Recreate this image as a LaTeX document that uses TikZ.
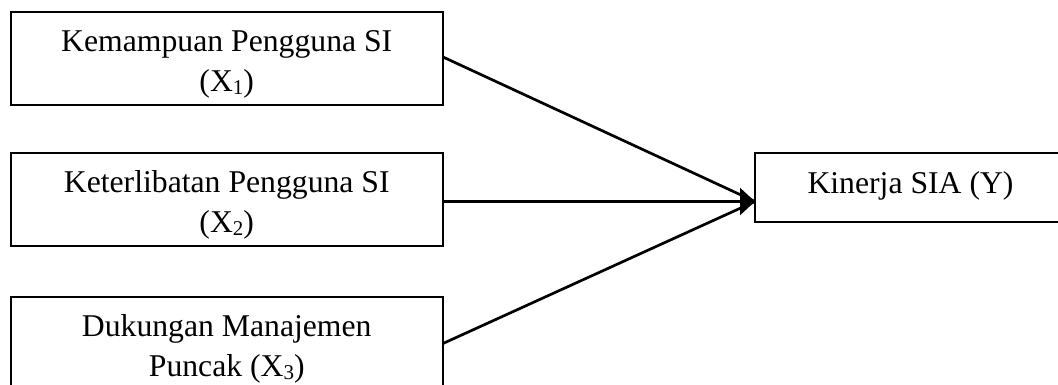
\documentclass[tikz,border=0pt]{standalone}
\usepackage{fontspec}
\setmainfont{Liberation Serif}
\usetikzlibrary{arrows.meta,calc}
\newcommand{\sbs}[1]{\raisebox{-3pt}{\fontsize{21}{21}\selectfont #1}}
\newcommand{\twoline}[2]{\begin{tabular}[t]{@{}c@{}}#1\\#2\end{tabular}}
\begin{document}
\begin{tikzpicture}[x=1pt,y=-1pt,
  box/.style={draw, line width=2pt, inner sep=0pt, outer sep=0pt, anchor=north west,
    font=\fontsize{31.7}{40}\selectfont},
  leftbox/.style={box, minimum width=432.5pt, text height=39.5pt, text depth=53.5pt},
  link/.style={line width=2.7pt},
  headlink/.style={link, -{Triangle[length=15pt,width=27pt]}}]
\useasboundingbox (0,0) rectangle (1058,385);
\node[leftbox] (x1) at (10.5,12.5) {\twoline{Kemampuan Pengguna SI}{(X\sbs{1})}};
\node[leftbox] (x2) at (10.5,153) {\twoline{Keterlibatan Pengguna SI}{(X\sbs{2})}};
\node[leftbox] (x3) at (10.5,297) {\twoline{Dukungan Manajemen}{Puncak (X\sbs{3})}};
\node[box, minimum width=311pt, text height=40pt, text depth=28.2pt] (y) at (755,153.3) {Kinerja SIA (Y)};
\coordinate (tip) at ($(y.north west)+(0,48.2)$);
\draw[link] ($(x1.east)+(0,-2)$) -- (tip);
\draw[headlink] (x2.east |- tip) -- (tip);
\draw[link] (x3.east) -- (tip);
\end{tikzpicture}
\end{document}
